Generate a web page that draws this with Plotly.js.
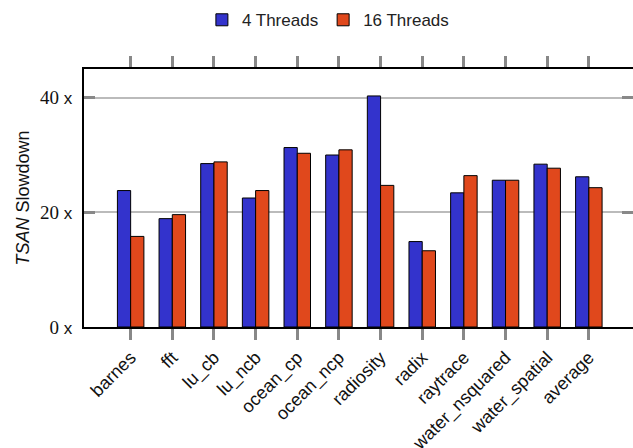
<!DOCTYPE html>
<html><head><meta charset="utf-8">
<script src="https://cdn.plot.ly/plotly-3.0.1.min.js"></script>
<style>html,body{margin:0;padding:0;overflow:hidden;background:#fff}</style>
</head><body><div id="chart" style="width:633px;height:448px"></div>
<script>
const categories = ["barnes","fft","lu_cb","lu_ncb","ocean_cp","ocean_ncp","radiosity","radix","raytrace","water_nsquared","water_spatial","average"];
const threads4 = [23.8, 18.9, 28.5, 22.5, 31.3, 30.0, 40.3, 14.9, 23.4, 25.6, 28.4, 26.2];
const threads16 = [15.8, 19.6, 28.8, 23.8, 30.3, 30.9, 24.7, 13.3, 26.4, 25.6, 27.7, 24.3];
const yTickVals = [0, 20, 40];
const yTickNums = ["0", "20", "40"];

const idx = categories.map((_, i) => i);
const sans = "Liberation Sans, Arial, sans-serif";
const yTickText = yTickNums.map(n => n + "<span style='font-family:Liberation Sans;font-size:17px'> x</span>");
const traces = [
  {type:"bar", name:"4 Threads", x:idx, y:threads4,
   marker:{color:"#3333cc", line:{color:"#000", width:1}}},
  {type:"bar", name:"16 Threads", x:idx, y:threads16,
   marker:{color:"#e0481c", line:{color:"#000", width:1}}}
];
const layout = {
  width:633, height:448,
  margin:{l:84, r:0, t:69, b:121},
  paper_bgcolor:"#fff", plot_bgcolor:"#fff",
  barmode:"group", bargap:0.364, bargroupgap:0,
  showlegend:true,
  legend:{orientation:"h", xref:"container", x:0.518, xanchor:"center",
          yref:"container", y:0.995, yanchor:"top",
          font:{family:sans, size:17, color:"#222"},
          itemwidth:20, tracegroupgap:0},
  xaxis:{range:[-1.12, 12.06], tickvals:idx, ticktext:categories, tickangle:-45,
         ticks:"outside", ticklen:11, tickwidth:3, tickcolor:"#888",
         showline:true, linecolor:"#000", linewidth:2, mirror:"ticks",
         showgrid:false, zeroline:false,
         tickfont:{family:sans, size:18, color:"#111"}},
  yaxis:{range:[0, 45], tickvals:yTickVals, ticktext:yTickText,
         ticks:"inside", ticklen:11, tickwidth:3, tickcolor:"#888",
         showline:true, linecolor:"#000", linewidth:2, mirror:"ticks",
         showgrid:true, gridcolor:"#bbb", gridwidth:2, zeroline:false,
         ticklabelstandoff:6,
         tickfont:{family:"Liberation Serif, serif", size:19, color:"#111"},
         title:{text:"<i>TSAN</i> Slowdown", standoff:6,
                font:{family:sans, size:18, color:"#111"}}}
};
Plotly.newPlot("chart", traces, layout, {displayModeBar:false, staticPlot:true});
</script></body></html>
